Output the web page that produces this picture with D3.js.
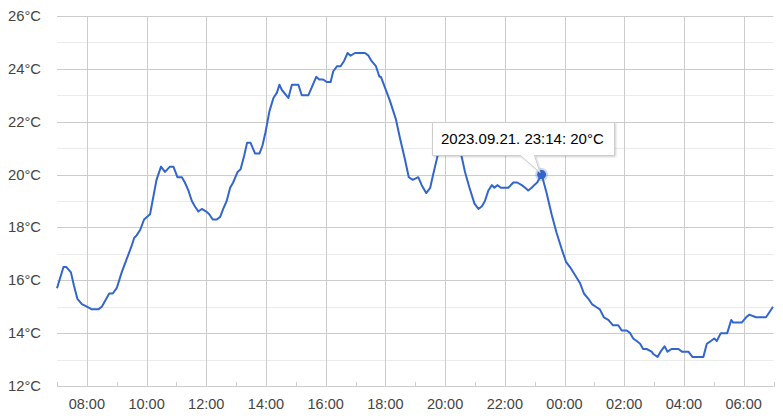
<!DOCTYPE html>
<html>
<head>
<meta charset="utf-8">
<script src="https://cdn.jsdelivr.net/npm/d3@7"></script>
<style>
  html, body { margin: 0; padding: 0; background: #fff; }
  svg { display: block; font-family: Arial, "Liberation Sans", sans-serif; }
</style>
</head>
<body>
<svg id="chart" width="783" height="420"></svg>
<script>
// ---- data ----
const startDate = "2023-09-21";
const times = [
  "07:00","07:13","07:19","07:28","07:34","07:41","07:50","08:00","08:10","08:23",
  "08:30","08:36","08:45","08:52","09:00","09:10","09:20","09:30","09:35","09:40",
  "09:47","09:55","10:07","10:14","10:20","10:29","10:37","10:47","10:54","11:02",
  "11:11","11:17","11:24","11:31","11:37","11:44","11:51","12:00","12:06","12:13",
  "12:21","12:28","12:34","12:41","12:48","12:54","13:03","13:09","13:16","13:22",
  "13:29","13:38","13:47","13:53","13:59","14:07","14:15","14:22","14:27","14:32",
  "14:45","14:52","15:05","15:12","15:25","15:32","15:41","15:47","15:55","16:02",
  "16:10","16:15","16:23","16:30","16:37","16:44","16:50","16:59","17:19","17:26",
  "17:32","17:41","17:48","17:51","17:59","18:09","18:21","18:29","18:39","18:47",
  "18:55","19:06","19:13","19:22","19:30","19:36","19:46","19:56","20:06","20:18",
  "20:26","20:33","20:40","20:49","20:59","21:07","21:14","21:20","21:27","21:34",
  "21:39","21:45","21:52","22:07","22:17","22:25","22:34","22:41","22:47","22:54",
  "22:59","23:05","23:14","23:24","23:34","23:44","23:54","00:03","00:11","00:21",
  "00:31","00:39","00:48","00:55","01:03","01:11","01:19","01:28","01:37","01:48",
  "01:55","02:05","02:12","02:18","02:25","02:32","02:38","02:45","02:55","02:59",
  "03:07","03:13","03:21","03:27","03:35","03:49","03:56","04:09","04:17","04:39",
  "04:46","04:54","05:01","05:06","05:14","05:27","05:35","05:39","05:56","06:05",
  "06:11","06:25","06:45","06:59"
];
const temps = [
  15.7,16.5,16.5,16.3,15.8,15.3,15.1,15.0,14.9,14.9,
  15.0,15.2,15.5,15.5,15.7,16.3,16.8,17.3,17.6,17.7,
  17.9,18.3,18.5,19.2,19.8,20.3,20.1,20.3,20.3,19.9,
  19.9,19.7,19.4,19.0,18.8,18.6,18.7,18.6,18.5,18.3,
  18.3,18.4,18.7,19.0,19.5,19.7,20.1,20.2,20.7,21.2,
  21.2,20.8,20.8,21.1,21.6,22.4,22.9,23.1,23.4,23.2,
  22.9,23.4,23.4,23.0,23.0,23.3,23.7,23.6,23.6,23.5,
  23.5,23.9,24.1,24.1,24.3,24.6,24.5,24.6,24.6,24.5,
  24.3,24.1,23.7,23.7,23.3,22.8,22.1,21.4,20.6,19.9,
  19.8,19.9,19.6,19.3,19.5,20.0,20.8,21.3,21.5,21.4,
  21.1,20.7,20.1,19.5,18.9,18.7,18.8,19.0,19.4,19.6,
  19.5,19.6,19.5,19.5,19.7,19.7,19.6,19.5,19.4,19.5,
  19.6,19.7,20.0,19.3,18.5,17.8,17.2,16.7,16.5,16.2,
  15.9,15.5,15.3,15.1,15.0,14.9,14.6,14.5,14.3,14.3,
  14.1,14.1,14.0,13.8,13.7,13.6,13.4,13.4,13.3,13.2,
  13.1,13.3,13.5,13.3,13.4,13.4,13.3,13.3,13.1,13.1,
  13.6,13.7,13.8,13.7,14.0,14.0,14.5,14.4,14.4,14.6,
  14.7,14.6,14.6,15.0
];
const yTicks = [12, 14, 16, 18, 20, 22, 24, 26];
const yMinorTicks = [13, 15, 17, 19, 21, 23, 25];
const xDomain = ["2023-09-21 07:00", "2023-09-22 07:00"];
const tooltipTime = "23:14";
const tooltipText = "2023.09.21. 23:14: 20°C";

(function () {
  // ---- build records ----
  const parse = d3.timeParse("%Y-%m-%d %H:%M");
  let dayOffset = 0, prev = null;
  const data = times.map((t, i) => {
    if (prev !== null && t < prev) dayOffset += 1;
    prev = t;
    const d = d3.timeDay.offset(parse(startDate + " " + t), dayOffset);
    return { date: d, value: temps[i], clock: t };
  });

  // ---- layout ----
  const svg = d3.select("#chart");
  const pLeft = 57, pRight = 773.5, pTop = 16, pBottom = 386;

  const x = d3.scaleTime().domain(xDomain.map(parse)).range([pLeft, pRight]);
  const y = d3.scaleLinear().domain([12, 26]).range([pBottom, pTop]);

  // minor horizontal gridlines
  svg.append("g").selectAll("line").data(yMinorTicks).join("line")
    .attr("x1", pLeft).attr("x2", pRight)
    .attr("y1", d => Math.round(y(d)) + 0.5).attr("y2", d => Math.round(y(d)) + 0.5)
    .attr("stroke", "#ebebeb").attr("stroke-width", 1);

  // major horizontal gridlines
  svg.append("g").selectAll("line").data(yTicks).join("line")
    .attr("x1", pLeft).attr("x2", pRight)
    .attr("y1", d => Math.round(y(d)) + 0.5).attr("y2", d => Math.round(y(d)) + 0.5)
    .attr("stroke", "#cccccc").attr("stroke-width", 1);

  // vertical gridlines at even hours
  const majorX = d3.timeHour.range(x.domain()[0], x.domain()[1])
    .filter(d => d.getHours() % 2 === 0);
  const minorX = d3.timeHour.range(x.domain()[0], d3.timeHour.offset(x.domain()[1], 1))
    .filter(d => d.getHours() % 2 === 1);

  svg.append("g").selectAll("line").data(majorX).join("line")
    .attr("x1", d => Math.round(x(d)) + 0.5).attr("x2", d => Math.round(x(d)) + 0.5)
    .attr("y1", pTop).attr("y2", pBottom + 1)
    .attr("stroke", "#cccccc").attr("stroke-width", 1);

  // small ticks at odd hours
  svg.append("g").selectAll("line").data(minorX).join("line")
    .attr("x1", d => Math.round(x(d)) + 0.5).attr("x2", d => Math.round(x(d)) + 0.5)
    .attr("y1", pBottom - 4).attr("y2", pBottom + 1)
    .attr("stroke", "#cccccc").attr("stroke-width", 1);

  // y labels
  svg.append("g").selectAll("text").data(yTicks).join("text")
    .attr("x", 41).attr("y", d => y(d) + 5)
    .attr("text-anchor", "end")
    .attr("font-size", 14.8).attr("fill", "#444")
    .text(d => d + "°C");

  // x labels
  const fmt = d3.timeFormat("%H:%M");
  svg.append("g").selectAll("text").data(majorX).join("text")
    .attr("x", d => x(d)).attr("y", 409)
    .attr("text-anchor", "middle")
    .attr("font-size", 14.5).attr("fill", "#444")
    .text(d => fmt(d));

  // line
  const line = d3.line().x(d => x(d.date)).y(d => y(d.value));
  svg.append("path").datum(data)
    .attr("d", line)
    .attr("fill", "none")
    .attr("stroke", "#3366cc")
    .attr("stroke-width", 2)
    .attr("stroke-linejoin", "round");

  // focused point
  const fp = data.find(d => d.clock === tooltipTime);
  const px = x(fp.date), py = y(fp.value);
  svg.append("circle").attr("cx", px).attr("cy", py).attr("r", 6.5)
    .attr("fill", "#3366cc").attr("fill-opacity", 0.25);
  svg.append("circle").attr("cx", px).attr("cy", py).attr("r", 4.5)
    .attr("fill", "#3366cc");

  // tooltip
  const defs = svg.append("defs");
  const f = defs.append("filter").attr("id", "shadow").attr("x", "-10%").attr("y", "-20%")
    .attr("width", "130%").attr("height", "160%");
  f.append("feDropShadow").attr("dx", 1).attr("dy", 1).attr("stdDeviation", 1.2)
    .attr("flood-color", "#000").attr("flood-opacity", 0.18);

  const tip = svg.append("g");
  const bx = 432.5, by = 122.5, bw = 182, bh = 33;
  const t0 = bx + 88, t1 = bx + 102;
  tip.append("path")
    .attr("d", `M${bx},${by}H${bx + bw}V${by + bh}H${t1}L${px - 1.5},${py - 2}L${t0},${by + bh}H${bx}Z`)
    .attr("fill", "#fff").attr("stroke", "#cccccc").attr("stroke-width", 1)
    .attr("filter", "url(#shadow)");
  tip.append("text")
    .attr("x", bx + 8.5).attr("y", by + 21.5)
    .attr("font-size", 15).attr("fill", "#000")
    .text(tooltipText);
})();
</script>
</body>
</html>
